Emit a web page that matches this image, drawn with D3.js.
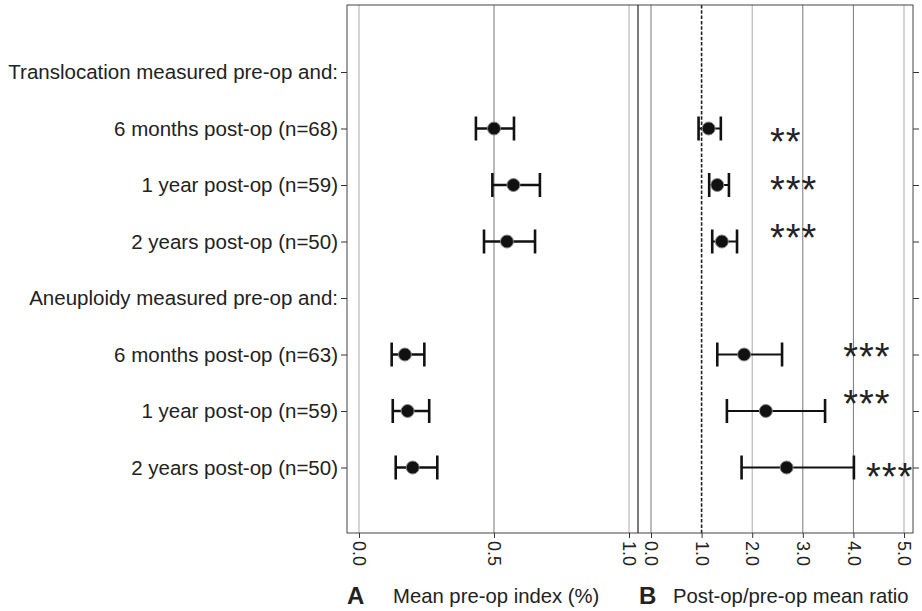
<!DOCTYPE html>
<html><head><meta charset="utf-8">
<script src="https://cdn.jsdelivr.net/npm/d3@7"></script>
<style>
html,body{margin:0;padding:0;background:#fff;}
svg text{font-family:"Liberation Sans",Arial,sans-serif;}
</style></head>
<body><svg id="chart" width="922" height="611"></svg>
<script>
// ---- data ----
const categories = [
  "Translocation measured pre-op and:",
  "6 months post-op (n=68)",
  "1 year post-op (n=59)",
  "2 years post-op (n=50)",
  "Aneuploidy measured pre-op and:",
  "6 months post-op (n=63)",
  "1 year post-op (n=59)",
  "2 years post-op (n=50)"
];
// Panel A: mean pre-op index (%) with CI (null = header row)
const meanA = [null, 0.500, 0.572, 0.548, null, 0.170, 0.180, 0.199];
const lowA  = [null, 0.433, 0.494, 0.463, null, 0.121, 0.125, 0.136];
const highA = [null, 0.574, 0.670, 0.652, null, 0.242, 0.260, 0.290];
// Panel B: post-op/pre-op mean ratio with CI
const meanB = [null, 1.14, 1.31, 1.40, null, 1.84, 2.27, 2.68];
const lowB  = [null, 0.94, 1.15, 1.21, null, 1.31, 1.50, 1.79];
const highB = [null, 1.38, 1.54, 1.70, null, 2.59, 3.44, 4.01];
const stars = ["", "**", "***", "***", "", "***", "***", "***"];
const ticksA = [0, 0.5, 1.0];
const ticksB = [0, 1, 2, 3, 4, 5];
const titleA = "Mean pre-op index (%)";
const titleB = "Post-op/pre-op mean ratio";

// ---- layout ----
const svg = d3.select("#chart");
const frameL = 347, frameR = 913, frameT = 5, frameB = 533, sep = 638;
const xA = d3.scaleLinear().domain([0, 1]).range([359, 629]);
const xB = d3.scaleLinear().domain([0, 5]).range([651, 904]);
const y = d3.scaleLinear().domain([0, 7]).range([72, 467.5]);
const idx = d3.range(categories.length);
const starNudge = [0, 5, -3, -12, 0, -6, -15, 1]; // annotation vertical placement

// gridlines
const gridA = svg.append("g");
gridA.selectAll("line").data(ticksA).join("line")
  .attr("x1", d => xA(d)).attr("x2", d => xA(d))
  .attr("y1", frameT).attr("y2", frameB)
  .attr("stroke", d => d === 0.5 ? "#777" : "#aaa").attr("stroke-width", 1);
const gridB = svg.append("g");
gridB.selectAll("line").data(ticksB.filter(d => d !== 1)).join("line")
  .attr("x1", d => xB(d)).attr("x2", d => xB(d))
  .attr("y1", frameT).attr("y2", frameB)
  .attr("stroke", d => (d === 0 || d === 3 || d === 4) ? "#777" : "#aaa").attr("stroke-width", 1);
// reference line at ratio 1
svg.append("line").attr("x1", xB(1)).attr("x2", xB(1)).attr("y1", frameT).attr("y2", frameB)
  .attr("stroke", "#222").attr("stroke-width", 1.6).attr("stroke-dasharray", "3.5,1.8");

// frame and separator
svg.append("rect").attr("x", frameL).attr("y", frameT).attr("width", frameR - frameL).attr("height", frameB - frameT)
  .attr("fill", "none").attr("stroke", "#444").attr("stroke-width", 1);
svg.append("line").attr("x1", sep).attr("x2", sep).attr("y1", frameT).attr("y2", frameB)
  .attr("stroke", "#333").attr("stroke-width", 1.3);

// left axis with category labels
const axL = svg.append("g").attr("transform", `translate(${frameL},0)`)
  .call(d3.axisLeft(y).tickValues(idx).tickFormat(i => categories[i]).tickSize(6).tickPadding(3));
axL.select(".domain").remove();
axL.selectAll("line").attr("stroke", "#333");
axL.selectAll("text").attr("font-size", "20.5px").attr("fill", "#222");

// right axis ticks
const axR = svg.append("g").attr("transform", `translate(${frameR},0)`)
  .call(d3.axisRight(y).tickValues(idx).tickFormat("").tickSize(6));
axR.select(".domain").remove();
axR.selectAll("line").attr("stroke", "#333");

// bottom axes
function bottomAxis(scale, ticks) {
  const g = svg.append("g").attr("transform", `translate(0,${frameB})`)
    .call(d3.axisBottom(scale).tickValues(ticks).tickFormat(d3.format(".1f")).tickSize(5));
  g.select(".domain").remove();
  g.selectAll("line").attr("stroke", "#333");
  g.selectAll("text").attr("font-size", "18px").attr("fill", "#222")
    .attr("transform", "rotate(90)").attr("text-anchor", "start")
    .attr("x", 8).attr("y", 0).attr("dy", "0.35em");
  return g;
}
bottomAxis(xA, ticksA);
bottomAxis(xB, ticksB);

// error bars + points
function drawPanel(x, mean, low, high, sw) {
  const rows = idx.filter(i => mean[i] !== null);
  const g = svg.append("g");
  g.selectAll(".ci").data(rows).join("line")
    .attr("x1", i => x(low[i])).attr("x2", i => x(high[i]))
    .attr("y1", i => y(i)).attr("y2", i => y(i))
    .attr("stroke", "#111").attr("stroke-width", sw);
  g.selectAll(".capL").data(rows).join("line")
    .attr("x1", i => x(low[i])).attr("x2", i => x(low[i]))
    .attr("y1", i => y(i) - 12).attr("y2", i => y(i) + 12)
    .attr("stroke", "#111").attr("stroke-width", 2.6);
  g.selectAll(".capR").data(rows).join("line")
    .attr("x1", i => x(high[i])).attr("x2", i => x(high[i]))
    .attr("y1", i => y(i) - 12).attr("y2", i => y(i) + 12)
    .attr("stroke", "#111").attr("stroke-width", 2.6);
  g.selectAll("circle").data(rows).join("circle")
    .attr("cx", i => x(mean[i])).attr("cy", i => y(i)).attr("r", 6.5)
    .attr("fill", "#111").attr("stroke", "#888").attr("stroke-width", 1);
}
drawPanel(xA, meanA, lowA, highA, 2.6);
drawPanel(xB, meanB, lowB, highB, 2);

// significance stars
const starRows = idx.filter(i => stars[i]);
svg.append("g").selectAll("text").data(starRows).join("text")
  .attr("x", i => Math.max(i < 4 ? xB(2.35) : xB(3.8), xB(highB[i]) + 12))
  .attr("y", i => y(i) + starNudge[i] + 21)
  .attr("font-size", "38px").attr("fill", "#222").attr("letter-spacing", "1px")
  .text(i => stars[i]);

// panel titles
svg.append("text").attr("x", 347).attr("y", 604).attr("font-size", "24px").attr("font-weight", "bold").attr("fill", "#222").text("A");
svg.append("text").attr("x", 393).attr("y", 603).attr("font-size", "20.3px").attr("fill", "#222").text(titleA);
svg.append("text").attr("x", 639).attr("y", 604).attr("font-size", "24px").attr("font-weight", "bold").attr("fill", "#222").text("B");
svg.append("text").attr("x", 673).attr("y", 603).attr("font-size", "20.3px").attr("fill", "#222").text(titleB);
</script></body></html>
